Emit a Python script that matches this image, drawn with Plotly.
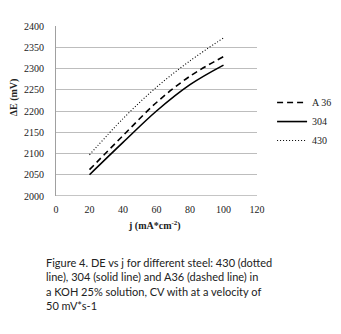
import plotly.graph_objects as go

j_values = [20, 40, 60, 80, 100]
a36_values = [2062, 2142, 2220, 2282, 2328]
s304_values = [2050, 2126, 2200, 2262, 2308]
s430_values = [2097, 2182, 2256, 2318, 2372]

series_names = ["A 36", "304", "430"]
x_ticks = [0, 20, 40, 60, 80, 100, 120]
y_ticks = [2000, 2050, 2100, 2150, 2200, 2250, 2300, 2350, 2400]

caption = ("Figure 4. DE vs j for different steel: 430 (dotted<br>"
           "line), 304 (solid line) and A36 (dashed line) in<br>"
           "a KOH 25% solution, CV with at a velocity of<br>"
           "50 mV*s-1")

fig = go.Figure()
fig.add_trace(go.Scatter(x=j_values, y=a36_values, name=series_names[0], mode="lines",
                         line=dict(color="black", width=1.6, dash="6px,4px", shape="spline")))
fig.add_trace(go.Scatter(x=j_values, y=s304_values, name=series_names[1], mode="lines",
                         line=dict(color="black", width=1.6, shape="spline")))
fig.add_trace(go.Scatter(x=j_values, y=s430_values, name=series_names[2], mode="lines",
                         line=dict(color="black", width=1.1, dash="1px,2px", shape="spline")))

serif = "Liberation Serif, Times New Roman, serif"
tick_font = dict(family=serif, size=10, color="#222")

fig.update_layout(
    width=341, height=334,
    margin=dict(l=48, r=79, t=18, b=146),
    paper_bgcolor="white", plot_bgcolor="white",
    showlegend=True,
    legend=dict(x=1.075, y=0.635, xanchor="left", yanchor="top",
                font=dict(family=serif, size=10, color="#222"),
                bgcolor="rgba(0,0,0,0)", tracegroupgap=0, itemwidth=30),
    xaxis=dict(range=[0, 120], tickvals=x_ticks, showgrid=False, zeroline=False,
               showline=False, ticks="", tickfont=tick_font, fixedrange=True,
               ticklabelstandoff=6),
    yaxis=dict(range=[2000, 2400], tickvals=y_ticks, showgrid=True, gridcolor="#bdbdbd",
               gridwidth=1, zeroline=False, showline=True, linecolor="#a0a0a0",
               linewidth=1, ticks="", tickfont=tick_font, fixedrange=True,
               ticklabelstandoff=9),
    annotations=[
        dict(text="<b>j (mA*cm<sup>-2</sup>)</b>", xref="paper", yref="paper",
             x=0.49, y=-0.125, xanchor="center", yanchor="top", showarrow=False,
             font=dict(family=serif, size=10, color="#222")),
        dict(text="<b>ΔE (mV)</b>", xref="paper", yref="paper",
             x=-0.165, y=0.58, xanchor="center", yanchor="middle", showarrow=False,
             xshift=-8, textangle=-90, font=dict(family=serif, size=10, color="#222")),
        dict(text=caption, xref="paper", yref="paper", x=-0.058, y=-0.34,
             xanchor="left", yanchor="top", align="left", showarrow=False,
             font=dict(family="Lato", size=11, color="#222")),
    ],
)
fig.add_hline(y=2000, line=dict(color="#8a8a8a", width=1))

fig.write_html("out.html")
